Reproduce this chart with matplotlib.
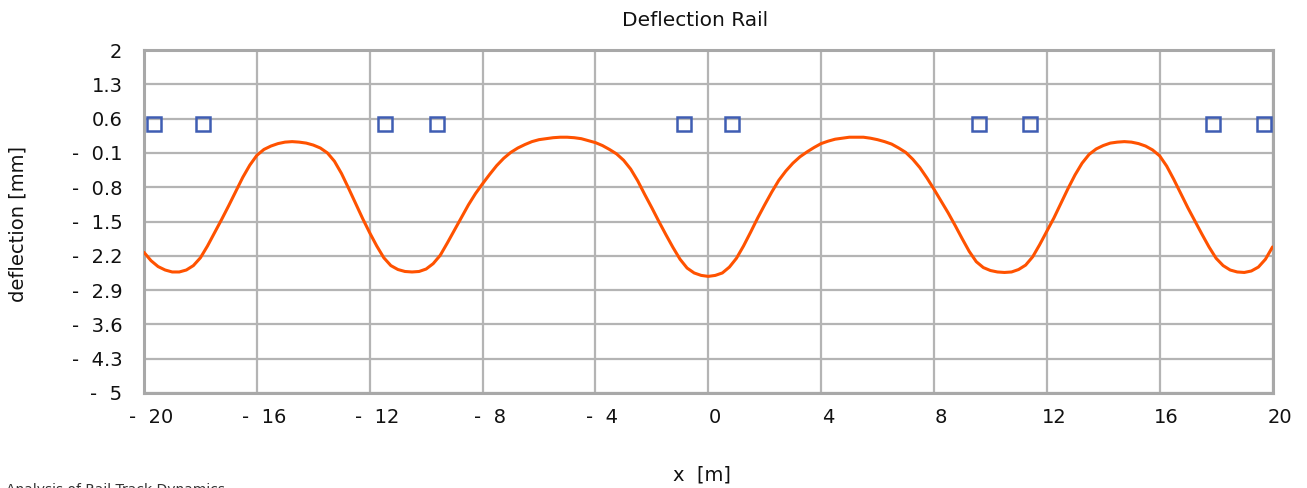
import matplotlib
matplotlib.use("Agg")
import matplotlib.pyplot as plt
import matplotlib.transforms as mtransforms
from matplotlib.ticker import FixedLocator, FuncFormatter

# ---- data (x in m, deflection in mm) ----
x_m = [-20.0, -19.75, -19.5, -19.25, -19.0, -18.75, -18.5, -18.25, -18.0, -17.75,
       -17.5, -17.25, -17.0, -16.75, -16.5, -16.25, -16.0, -15.75, -15.5, -15.25,
       -15.0, -14.75, -14.5, -14.25, -14.0, -13.75, -13.5, -13.25, -13.0, -12.75,
       -12.5, -12.25, -12.0, -11.75, -11.5, -11.25, -11.0, -10.75, -10.5, -10.25,
       -10.0, -9.75, -9.5, -9.25, -9.0, -8.75, -8.5, -8.25, -8.0, -7.75,
       -7.5, -7.25, -7.0, -6.75, -6.5, -6.25, -6.0, -5.75, -5.5, -5.25,
       -5.0, -4.75, -4.5, -4.25, -4.0, -3.75, -3.5, -3.25, -3.0, -2.75,
       -2.5, -2.25, -2.0, -1.75, -1.5, -1.25, -1.0, -0.75, -0.5, -0.25,
       0.0, 0.25, 0.5, 0.75, 1.0, 1.25, 1.5, 1.75, 2.0, 2.25,
       2.5, 2.75, 3.0, 3.25, 3.5, 3.75, 4.0, 4.25, 4.5, 4.75,
       5.0, 5.25, 5.5, 5.75, 6.0, 6.25, 6.5, 6.75, 7.0, 7.25,
       7.5, 7.75, 8.0, 8.25, 8.5, 8.75, 9.0, 9.25, 9.5, 9.75,
       10.0, 10.25, 10.5, 10.75, 11.0, 11.25, 11.5, 11.75, 12.0, 12.25,
       12.5, 12.75, 13.0, 13.25, 13.5, 13.75, 14.0, 14.25, 14.5, 14.75,
       15.0, 15.25, 15.5, 15.75, 16.0, 16.25, 16.5, 16.75, 17.0, 17.25,
       17.5, 17.75, 18.0, 18.25, 18.5, 18.75, 19.0, 19.25, 19.5, 19.75, 20.0]
deflection_mm = [-2.13, -2.30, -2.42, -2.49, -2.53, -2.53, -2.49, -2.40, -2.24, -2.00,
                 -1.73, -1.46, -1.18, -0.89, -0.60, -0.35, -0.15, -0.03, 0.04, 0.09,
                 0.12, 0.13, 0.12, 0.10, 0.06, 0.00, -0.10, -0.27, -0.52, -0.82,
                 -1.13, -1.44, -1.73, -2.00, -2.24, -2.40, -2.48, -2.52, -2.53, -2.52,
                 -2.47, -2.36, -2.19, -1.94, -1.68, -1.42, -1.16, -0.93, -0.73, -0.54,
                 -0.36, -0.21, -0.09, 0.00, 0.07, 0.13, 0.17, 0.19, 0.21, 0.22,
                 0.22, 0.21, 0.19, 0.15, 0.11, 0.05, -0.03, -0.12, -0.25, -0.43,
                 -0.67, -0.95, -1.22, -1.50, -1.77, -2.03, -2.27, -2.45, -2.55, -2.60,
                 -2.62, -2.60, -2.55, -2.43, -2.25, -2.00, -1.72, -1.43, -1.16, -0.90,
                 -0.66, -0.47, -0.31, -0.18, -0.08, 0.01, 0.09, 0.14, 0.18, 0.20,
                 0.22, 0.22, 0.22, 0.20, 0.17, 0.13, 0.08, 0.00, -0.09, -0.23,
                 -0.40, -0.61, -0.84, -1.08, -1.32, -1.58, -1.85, -2.11, -2.32, -2.44,
                 -2.50, -2.53, -2.54, -2.53, -2.48, -2.39, -2.22, -1.97, -1.70, -1.43,
                 -1.13, -0.83, -0.55, -0.31, -0.13, -0.02, 0.05, 0.10, 0.12, 0.13,
                 0.12, 0.09, 0.04, -0.04, -0.16, -0.37, -0.64, -0.93, -1.22, -1.49,
                 -1.76, -2.02, -2.25, -2.40, -2.49, -2.53, -2.54, -2.51, -2.43, -2.27, -2.02]
axle_x = [-19.65, -17.9, -11.45, -9.6, -0.85, 0.85, 9.6, 11.4, 17.9, 19.7]
axle_y = [0.5, 0.5, 0.5, 0.5, 0.5, 0.5, 0.5, 0.5, 0.5, 0.5]
y_ticks = [2.0, 1.3, 0.6, -0.1, -0.8, -1.5, -2.2, -2.9, -3.6, -4.3, -5.0]
x_ticks = [-20, -16, -12, -8, -4, 0, 4, 8, 12, 16, 20]
title = "Deflection Rail"
xlabel = "x  [m]"
ylabel = "deflection [mm]"
footer = "Analysis of Rail Track Dynamics"

plt.rcParams['font.family'] = ['DejaVu Sans']

W, H = 1307, 488
fig = plt.figure(figsize=(W / 100, H / 100), dpi=100)
ax = fig.add_axes([144 / W, 1 - 393 / H, (1272.5 - 144) / W, (393 - 50) / H])

ax.plot(x_m, deflection_mm, color='#FF5200', lw=2.2, zorder=3,
        solid_joinstyle='round', solid_capstyle='round')
ax.plot(axle_x, axle_y, linestyle='none', marker='s', markersize=10.4,
        markerfacecolor='none', markeredgecolor='#3F5DB3', markeredgewidth=1.8, zorder=4)

ax.set_xlim(-20, 20)
ax.set_ylim(-5, 2)
ax.xaxis.set_major_locator(FixedLocator(x_ticks))
ax.yaxis.set_major_locator(FixedLocator(y_ticks))


def fmt(v, pos=None):
    if abs(v) < 1e-9:
        return "0"
    s = f"{abs(v):g}"
    return ("-  " + s) if v < 0 else s


ax.xaxis.set_major_formatter(FuncFormatter(fmt))
ax.yaxis.set_major_formatter(FuncFormatter(fmt))
ax.tick_params(axis='both', length=0, labelsize=14, colors='#111111')
ax.tick_params(axis='y', pad=15.5)
ax.tick_params(axis='x', pad=11)

offset = mtransforms.ScaledTranslation(7 / 100, 0, fig.dpi_scale_trans)
for lbl in ax.get_xticklabels():
    lbl.set_transform(lbl.get_transform() + offset)

ax.grid(True, color='#B4B4B4', lw=1.6)
ax.set_axisbelow(True)
for sp in ax.spines.values():
    sp.set_color('#A8A8A8')
    sp.set_linewidth(2.2)

fig.text(695 / W, 1 - 21 / H, title, ha='center', va='center', fontsize=14.5, color='#111111')
fig.text(702 / W, 1 - 475 / H, xlabel, ha='center', va='center', fontsize=14, color='#111111')
fig.text(18 / W, 1 - 224 / H, ylabel, ha='center', va='center', rotation=90,
         fontsize=14, color='#111111')
fig.text(6 / W, 1 - 483 / H, footer, ha='left', va='top', fontsize=10, color='#333333')

fig.savefig("out.png", dpi=100, facecolor='white')
